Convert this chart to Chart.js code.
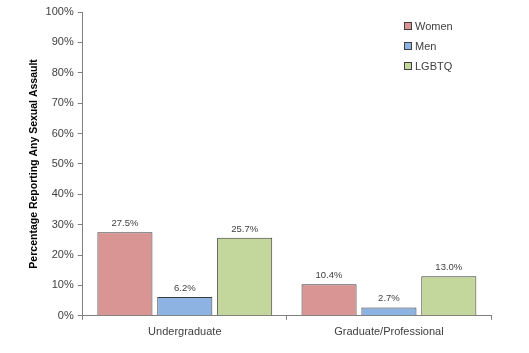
<!DOCTYPE html>
<html>
<head>
<meta charset="utf-8">
<script src="https://cdn.jsdelivr.net/npm/chart.js@4/dist/chart.umd.min.js"></script>
<style>
  html, body { margin: 0; padding: 0; background: #fff; }
  #wrap { width: 529px; height: 353px; position: relative; }
</style>
</head>
<body>
<div id="wrap"><canvas id="chart"></canvas></div>
<script>
// Data
const categories = ['Undergraduate', 'Graduate/Professional'];
const seriesNames = ['Women', 'Men', 'LGBTQ'];
const women = [27.5, 10.4];
const men = [6.2, 2.7];
const lgbtq = [25.7, 13.0];
const yTicks = [0, 10, 20, 30, 40, 50, 60, 70, 80, 90, 100];

const fills = ['#D99594', '#8DB3E2', '#C3D69B'];
const FONT = '"Liberation Sans", Arial, sans-serif';

// values above each bar
const barLabels = {
    id: 'barLabels',
    afterDatasetsDraw(chart) {
        const ctx = chart.ctx;
        ctx.save();
        ctx.font = '9.5px ' + FONT;
        ctx.fillStyle = '#404040';
        ctx.textAlign = 'center';
        ctx.textBaseline = 'bottom';
        chart.data.datasets.forEach((ds, i) => {
            chart.getDatasetMeta(i).data.forEach((bar, j) => {
                ctx.fillText(ds.data[j].toFixed(1) + '%', bar.x, bar.y - 4);
            });
        });
        ctx.restore();
    }
};

// legend inside the plot, top right
const insideLegend = {
    id: 'insideLegend',
    afterDraw(chart) {
        const ctx = chart.ctx;
        ctx.save();
        ctx.font = '11px ' + FONT;
        ctx.textBaseline = 'middle';
        chart.data.datasets.forEach((ds, i) => {
            const x = 404, y = 26 + i * 20;
            ctx.fillStyle = ds.backgroundColor;
            ctx.fillRect(x, y - 4, 8, 8);
            ctx.strokeStyle = '#404040';
            ctx.lineWidth = 1;
            ctx.strokeRect(x + 0.5, y - 3.5, 7, 7);
            ctx.fillStyle = '#404040';
            ctx.fillText(ds.label, x + 11, y + 1);
        });
        ctx.restore();
    }
};

new Chart(document.getElementById('chart'), {
    type: 'bar',
    data: {
        labels: categories,
        datasets: [women, men, lgbtq].map((d, i) => ({
            label: seriesNames[i],
            data: d,
            backgroundColor: fills[i],
            borderColor: '#3a3a3a',
            borderWidth: 1,
            categoryPercentage: 0.88,
            barPercentage: 0.92
        }))
    },
    options: {
        responsive: true,
        maintainAspectRatio: false,
        animation: false,
        layout: { padding: { top: 12, right: 38, bottom: 8, left: 28 } },
        plugins: {
            legend: { display: false },
            tooltip: { enabled: false }
        },
        scales: {
            x: {
                grid: {
                    offset: true,
                    drawOnChartArea: false,
                    drawTicks: true,
                    tickLength: 4,
                    color: '#808080'
                },
                border: { color: '#808080', width: 1 },
                ticks: { color: '#404040', font: { family: FONT, size: 11 }, padding: 6 }
            },
            y: {
                min: 0,
                max: 100,
                afterBuildTicks(axis) {
                    axis.ticks = yTicks.map(v => ({ value: v }));
                },
                grid: {
                    drawOnChartArea: false,
                    tickLength: 5,
                    color: '#808080'
                },
                border: { color: '#808080', width: 1 },
                ticks: {
                    color: '#404040',
                    font: { family: FONT, size: 11 },
                    padding: 4,
                    callback: v => v + '%'
                },
                title: {
                    display: true,
                    text: 'Percentage Reporting Any Sexual Assault',
                    color: '#000',
                    font: { family: FONT, size: 10.5, weight: 'bold' },
                    padding: { top: 0, bottom: 1 }
                }
            }
        }
    },
    plugins: [barLabels, insideLegend]
});
</script>
</body>
</html>
